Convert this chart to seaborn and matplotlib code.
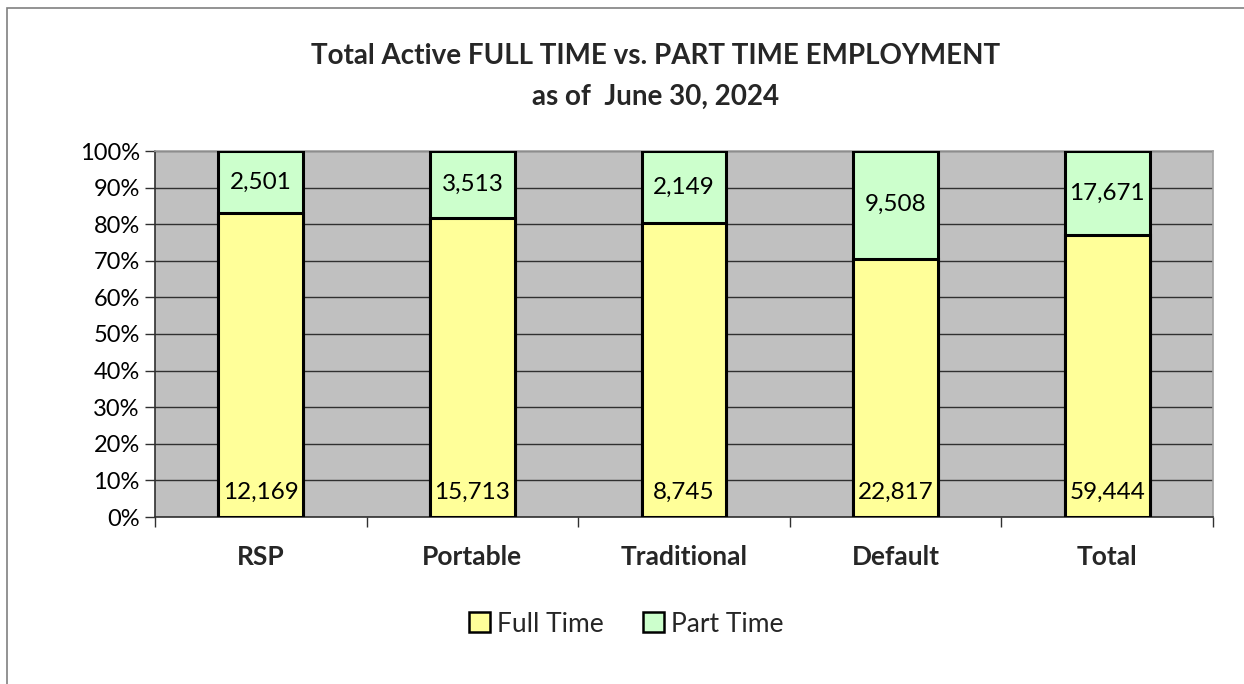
import matplotlib
matplotlib.use("Agg")
import matplotlib.pyplot as plt
import seaborn as sns
import pandas as pd
import numpy as np
from matplotlib.patches import Patch, Rectangle
from matplotlib.ticker import PercentFormatter

categories = ["RSP", "Portable", "Traditional", "Default", "Total"]
full_time = [12169, 15713, 8745, 22817, 59444]
part_time = [2501, 3513, 2149, 9508, 17671]

sns.set_theme(style="white")
plt.rcParams['font.family'] = ['Lato', 'DejaVu Sans']

ft = np.array(full_time, dtype=float)
pt = np.array(part_time, dtype=float)
tot = ft + pt
df = pd.DataFrame({"cat": categories,
                   "full_pct": ft / tot * 100,
                   "total_pct": tot / tot * 100})

W, H = 1244, 684
fig = plt.figure(figsize=(W / 100, H / 100), dpi=100)
ax = fig.add_axes([155 / W, 1 - 517 / H, (1213 - 155) / W, (517 - 151) / H])
ax.set_facecolor("#C0C0C0")

green = "#CCFFCC"
yellow = "#FFFF99"
sns.barplot(data=df, x="cat", y="total_pct", color=green, edgecolor="black",
            linewidth=2.2, width=0.40, saturation=1, ax=ax, zorder=3)
sns.barplot(data=df, x="cat", y="full_pct", color=yellow, edgecolor="black",
            linewidth=2.2, width=0.40, saturation=1, ax=ax, zorder=4)

ax.set_ylim(0, 100)
ax.set_xlim(-0.5, len(categories) - 0.5)
ax.set_yticks(np.arange(0, 101, 10))
ax.yaxis.set_major_formatter(PercentFormatter(decimals=0))
ax.grid(axis="y", color="#303030", linewidth=1, zorder=1)
ax.set_axisbelow(True)
ax.set_xlabel("")
ax.set_ylabel("")

for s in ["top", "right"]:
    ax.spines[s].set_color("#A0A0A0")
    ax.spines[s].set_linewidth(1.2)
for s in ["left", "bottom"]:
    ax.spines[s].set_color("#303030")
    ax.spines[s].set_linewidth(1.2)

ax.tick_params(axis="y", which="both", left=True, length=7, width=1,
               color="#303030", labelsize=17, pad=4, labelcolor="black")
ax.set_xticks(range(len(categories)))
ax.set_xticklabels(categories, fontsize=19, fontweight="bold")
ax.tick_params(axis="x", which="major", bottom=False, length=0, pad=20)
ax.set_xticks(np.arange(-0.5, len(categories), 1), minor=True)
ax.tick_params(axis="x", which="minor", bottom=True, length=7, width=1,
               color="#303030")

full_pct = ft / tot * 100
for i in range(len(categories)):
    ax.text(i, 6.8, f"{full_time[i]:,}", ha="center", va="center",
            fontsize=17.5, zorder=6, color="black")
    mid = (full_pct[i] + 100) / 2
    ax.text(i, mid, f"{part_time[i]:,}", ha="center", va="center",
            fontsize=17.5, zorder=6, color="black")

fig.text(656 / W, 1 - 56 / H, "Total Active FULL TIME vs. PART TIME EMPLOYMENT",
         ha="center", va="center", fontsize=20, fontweight="bold")
fig.text(656 / W, 1 - 97 / H, "as of  June 30, 2024",
         ha="center", va="center", fontsize=20, fontweight="bold")

handles = [Patch(facecolor=yellow, edgecolor="black", linewidth=1.8, label="Full Time"),
           Patch(facecolor=green, edgecolor="black", linewidth=1.8, label="Part Time")]
fig.legend(handles=handles, loc="center", bbox_to_anchor=(626 / W, 1 - 624 / H),
           ncol=2, frameon=False, fontsize=19, handlelength=0.8, handleheight=0.8,
           handletextpad=0.25, columnspacing=1.5)

fig.patches.append(Rectangle((7 / W, -0.1), 1.2, 1 - 8 / H + 0.1,
                             transform=fig.transFigure, fill=False,
                             edgecolor="#808080", linewidth=1.2))

fig.savefig("out.png", dpi=100, facecolor="white")
